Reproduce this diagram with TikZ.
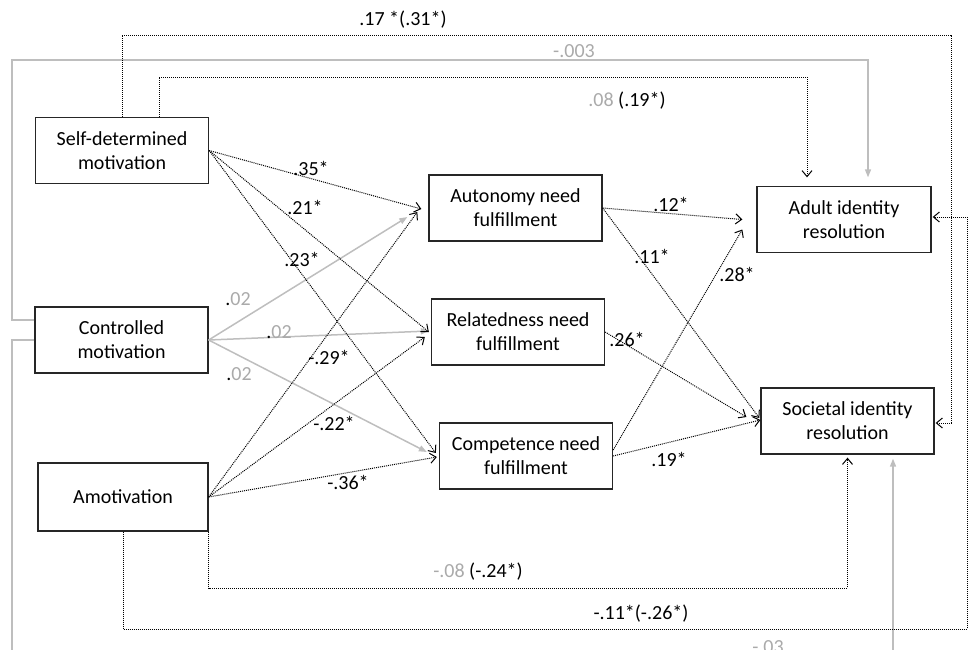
\documentclass[tikz,border=0pt]{standalone}
\usepackage{fontspec}
\setmainfont{Carlito}
\usetikzlibrary{arrows.meta}
\definecolor{lgray}{RGB}{190,190,190}
\definecolor{tgray}{RGB}{170,170,170}
\begin{document}
\begin{tikzpicture}[x=1pt,y=-1pt,
  var/.style={draw=black!85,line width=1.3pt,minimum width=173pt,minimum height=66pt,
    inner sep=0pt,align=center,font=\fontsize{20}{24}\selectfont},
  sig/.style={line width=1pt,dash pattern=on 1pt off 1pt,
    -{Straight Barb[length=6pt,width=10pt,line width=1pt]}},
  nsig/.style={draw=lgray,line width=1.5pt,-{Triangle[length=8pt,width=6pt]}},
  lab/.style={inner sep=0pt,font=\fontsize{20}{24}\selectfont},
  glab/.style={lab,text=tgray}]
\useasboundingbox (0,0) rectangle (968,649);
% motivations
\node[var] (sdm) at (122,150.5) {Self-determined\\motivation};
\node[var] (cm) at (121.5,340) {Controlled\\motivation};
\node[var,minimum width=170pt,minimum height=68pt] (amo) at (123,497) {Amotivation};
% need fulfillment
\node[var] (aut) at (515.5,208) {Autonomy need\\fulfillment};
\node[var] (rel) at (518,332) {Relatedness need\\fulfillment};
\node[var] (com) at (526,456) {Competence need\\fulfillment};
% identity resolution
\node[var,minimum width=174pt] (adi) at (844,219.5) {Adult identity\\resolution};
\node[var] (sid) at (847.5,421) {Societal identity\\resolution};
% controlled motivation, not significant
\foreach \b/\dx/\dy in {aut/-21/9, rel/-2/-1, com/-12/-4} {
  \draw[nsig] (cm.east) -- ([shift={(\dx,\dy)}]\b.west);
}
\draw[nsig] ([shift={(0,-20)}]cm.west) -| (12,60) -| ([shift={(24,-8.5)}]adi.north);
\draw[nsig] (cm.west) -| (12,665) -| ([shift={(45.5,4)}]sid.south);
% self-determined and amotivation
\foreach \a/\b/\dx/\dy in {sdm/aut/-7/1, sdm/rel/-2/0, sdm/com/-3/-3,
                           amo/aut/-11/4, amo/rel/-6/5, amo/com/-2/1} {
  \draw[sig] (\a.east) -- ([shift={(\dx,\dy)}]\b.west);
}
% needs to identity
\draw[sig] (aut.east) -- ([shift={(-14,0)}]adi.west);
\draw[sig] (aut.east) -- ([shift={(-1,-3)}]sid.west);
\draw[sig] (rel.east) -- ([shift={(-14,-4)}]sid.west);
\draw[sig] ([shift={(0,-6)}]com.east) -- ([shift={(-14,10)}]adi.west);
\draw[sig] (com.east) -- ([shift={(0,-1)}]sid.west);
% direct paths
\draw[sig] (sdm.north) |- (951,35) |- ([shift={(1,2)}]sid.east);
\draw[sig] ([xshift=37pt]sdm.north) |- (807,77) -- ([shift={(-37,-8.5)}]adi.north);
\draw[sig] (amo.south east) |- (847.5,588) -- ([shift={(0,3)}]sid.south);
\draw[sig] (amo.south) |- (967,629) |- ([shift={(1,-2.5)}]adi.east);
% coefficients
\node[lab] (l35) at (311,168) {.35*};
\node[lab] (l21) at (305,207) {.21*};
\node[lab] (l23) at (302,259) {.23*};
\node[lab] (l02a) at (238,299) {.\textcolor{tgray}{02}};
\node[lab] (l02b) at (279,332) {.\textcolor{tgray}{02}};
\node[lab] (l02c) at (239,374) {.\textcolor{tgray}{02}};
\node[lab] (l29) at (329,357) {-.29*};
\node[lab] (l22) at (334,423) {-.22*};
\node[lab] (l36) at (348,482) {-.36*};
\node[lab] (l12) at (671,204) {.12*};
\node[lab] (l11) at (652,256) {.11*};
\node[lab] (l28) at (737,274) {.28*};
\node[lab] (l26) at (627,339) {.26*};
\node[lab] (l19) at (669,459) {.19*};
\node[lab] (l17) at (403,20) {.17 *(.31*)};
\node[glab] (l003) at (574,51) {-.003};
\node[lab] (l08) at (627,101) {\textcolor{tgray}{.08} (.19*)};
\node[lab] (l08b) at (478,572) {\textcolor{tgray}{-.08} (-.24*)};
\node[lab] (l11b) at (641,614) {-.11*(-.26*)};
\node[glab] (l03) at (768,647) {-.03};
\end{tikzpicture}
\end{document}
